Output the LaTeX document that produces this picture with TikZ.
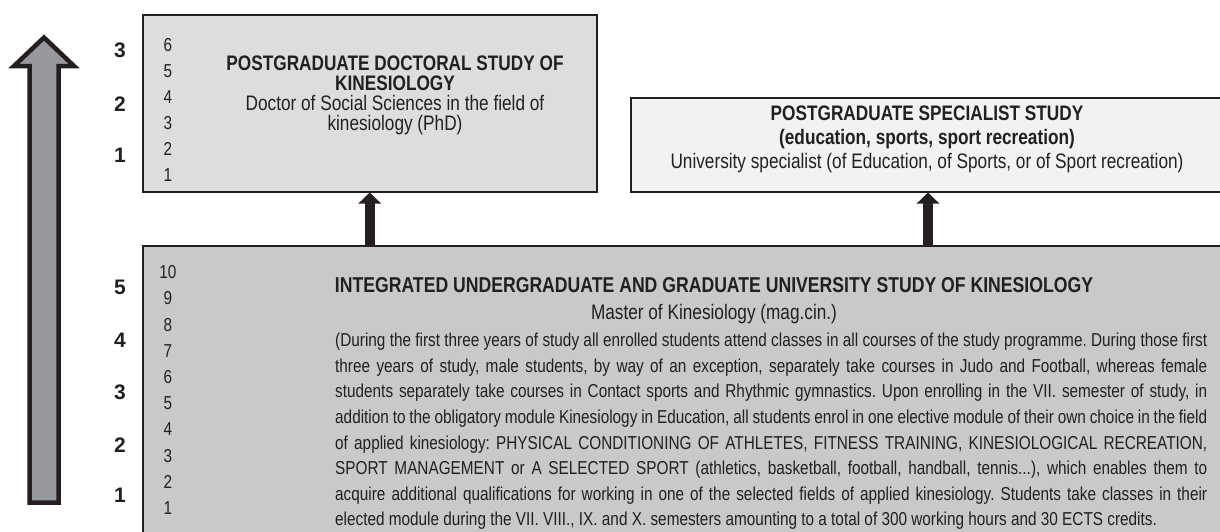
\documentclass[tikz,border=0pt]{standalone}
\usepackage{fontspec}
\setmainfont[FakeStretch=0.82]{Liberation Sans}
\newfontfamily\yearfont{Liberation Sans}
\usetikzlibrary{arrows.meta,positioning}
\definecolor{ksInk}{HTML}{231F20}
\definecolor{ksDoc}{HTML}{DCDDDF}
\definecolor{ksSpec}{HTML}{F1F2F3}
\definecolor{ksUnder}{HTML}{C8C9CB}
\definecolor{ksLevel}{HTML}{97989C}
\frenchspacing

\begin{document}
\begin{tikzpicture}[x=1pt,y=-1pt,text=ksInk,font=\fontsize{21}{21}\selectfont,
   box/.style={draw=ksInk,line width=2pt,inner sep=0pt,anchor=north west},
   sem/.style={inner sep=0pt,font=\fontsize{18.7}{18.7}\selectfont},
   yr/.style={inner sep=0pt,font=\yearfont\fontsize{21}{21}\selectfont\bfseries},
   uparrow/.style={draw=ksInk,line width=10pt,-{Triangle[width=22pt,length=11pt]}}]
  \useasboundingbox (0,0) rectangle (1220,531);

  % study boxes
  \node[box,fill=ksDoc,minimum width=454.5pt,minimum height=176.5pt] (doc) at (141.5,14) {};
  \node[box,fill=ksSpec,minimum width=594pt,minimum height=93.5pt] (spec) at (630,97) {};
  \node[box,fill=ksUnder,minimum width=1090pt,minimum height=300pt] (under) at (141.5,245) {};

  % level arrow on the left
  \draw[ksInk,fill=ksLevel,line width=4.5pt,miter limit=10]
    (29.5,502.5) -- (29.5,66) -- (14,66) -- (44,37.5) -- (74,66) -- (58.5,66) -- (58.5,502.5) -- cycle;

  % years and semesters
  \foreach \y/\p in {1/155,2/104,3/50}
    \node[yr] (dy\y) at (120,\p) {\y};
  \foreach \y/\p in {1/495,2/445,3/392,4/340,5/287}
    \node[yr] (uy\y) at (120,\p) {\y};
  \foreach \s in {1,...,6}
    \node[sem] (ds\s) at (168,{175-26*(\s-1)}) {\s};
  \foreach \s in {1,...,10}
    \node[sem] (us\s) at (168,{508-26.2*(\s-1)}) {\s};

  \node[align=center,inner sep=0pt,font=\fontsize{21}{20}\selectfont] (doctxt) at (395,95) {%
    \textbf{POSTGRADUATE DOCTORAL STUDY OF}\\
    \textbf{KINESIOLOGY}\\
    Doctor of Social Sciences in the field of\\
    kinesiology (PhD)};
  \node[align=center,inner sep=0pt,font=\fontsize{21}{24}\selectfont] (spectxt) at (927,139.5) {%
    \textbf{POSTGRADUATE SPECIALIST STUDY}\\
    \textbf{(education, sports, sport recreation)}\\
    University specialist (of Education, of Sports, or of Sport recreation)};

  \node[inner sep=0pt,font=\fontsize{21.5}{21.5}\selectfont\bfseries] (utitle) at (714,285)
    {INTEGRATED UNDERGRADUATE AND GRADUATE UNIVERSITY STUDY OF KINESIOLOGY};
  \node[inner sep=0pt,below=11.5pt of utitle] (umaster) {Master of Kinesiology (mag.cin.)};
  \node[anchor=north west,inner sep=0pt,text width=872pt,align=justify,
        font=\fontsize{18.7}{25.6}\selectfont] (ubody) at (335,333) {\hyphenpenalty=10000\relax
    (During the first three years of study all enrolled students attend classes in all courses of the study programme. During those first\linebreak
    three years of study, male students, by way of an exception, separately take courses in Judo and Football, whereas female\linebreak
    students separately take courses in Contact sports and Rhythmic gymnastics. Upon enrolling in the VII. semester of study, in\linebreak
    addition to the obligatory module Kinesiology in Education, all students enrol in one elective module of their own choice in the field\linebreak
    of applied kinesiology: PHYSICAL CONDITIONING OF ATHLETES, FITNESS TRAINING, KINESIOLOGICAL RECREATION,\linebreak
    SPORT MANAGEMENT or A SELECTED SPORT (athletics, basketball, football, handball, tennis...), which enables them to\linebreak
    acquire additional qualifications for working in one of the selected fields of applied kinesiology. Students take classes in their\linebreak
    elected module during the VII. VIII., IX. and X. semesters amounting to a total of 300 working hours and 30 ECTS credits.};

  % progression between the studies
  \draw[uparrow] (doc.south |- under.north) -- (doc.south);
  \draw[uparrow] (spec.south |- under.north) -- (spec.south);
\end{tikzpicture}
\end{document}
